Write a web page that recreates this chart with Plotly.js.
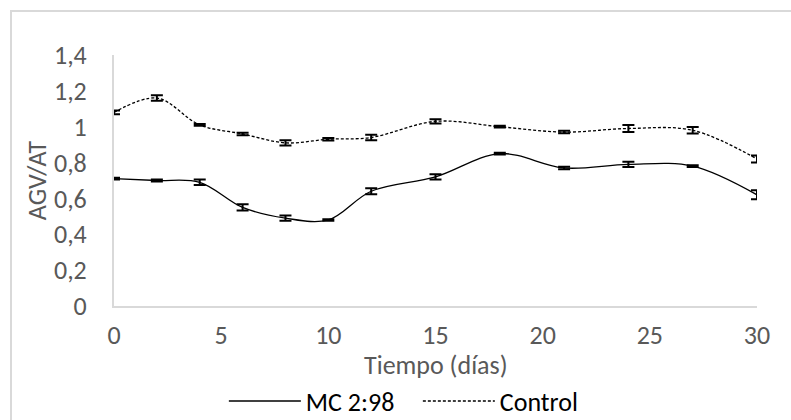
<!DOCTYPE html>
<html>
<head>
<meta charset="utf-8">
<script src="https://cdn.plot.ly/plotly-3.0.1.min.js"></script>
<style>
html,body{margin:0;padding:0;background:#fff;}
#wrap{position:relative;width:791px;height:420px;overflow:hidden;}
#frame{position:absolute;left:10px;top:10px;width:800px;height:430px;border:2px solid #d9d9d9;box-sizing:border-box;pointer-events:none;}
#chart{position:absolute;left:0;top:0;width:791px;height:420px;}
</style>
</head>
<body>
<div id="wrap"><div id="chart"></div><div id="frame"></div></div>
<script>
const dias = [0, 2, 4, 6, 8, 10, 12, 15, 18, 21, 24, 27, 30];
const mcValues = [0.71, 0.70, 0.69, 0.55, 0.49, 0.48, 0.64, 0.72, 0.85, 0.77, 0.79, 0.78, 0.62];
const mcErrors = [0.005, 0.005, 0.015, 0.017, 0.015, 0.004, 0.017, 0.015, 0.005, 0.007, 0.015, 0.005, 0.025];
const controlValues = [1.08, 1.16, 1.01, 0.96, 0.91, 0.93, 0.94, 1.03, 1.00, 0.97, 0.99, 0.98, 0.82];
const controlErrors = [0.01, 0.015, 0.005, 0.007, 0.015, 0.007, 0.015, 0.012, 0.005, 0.007, 0.02, 0.018, 0.02];
const seriesNames = ["MC 2:98", "Control"];
const xTitle = "Tiempo (días)";
const yTitle = "AGV/AT";

const FONT = "Carlito, Calibri, 'Liberation Sans Narrow', 'DejaVu Sans Condensed', sans-serif";
const GREY = "#595959";
const FS = 26;

const traces = [
  {
    x: dias, y: mcValues, name: seriesNames[0], type: "scatter", mode: "lines",
    line: {color: "#000", width: 1.3, shape: "spline", smoothing: 1},
    error_y: {type: "data", array: mcErrors, visible: true, color: "#000", thickness: 2, width: 6}
  },
  {
    x: dias, y: controlValues, name: seriesNames[1], type: "scatter", mode: "lines",
    line: {color: "#000", width: 1.3, shape: "spline", smoothing: 1, dash: "3px,2px"},
    error_y: {type: "data", array: controlErrors, visible: true, color: "#000", thickness: 2, width: 6}
  }
];

const layout = {
  width: 791, height: 420,
  paper_bgcolor: "rgba(0,0,0,0)", plot_bgcolor: "#fff",
  separators: ",.",
  margin: {l: 113.5, r: 34, t: 54.5, b: 113.5},
  font: {family: FONT, size: FS, color: GREY},
  showlegend: true,
  legend: {
    orientation: "h", xref: "container", yref: "container",
    x: 0.283, xanchor: "left", y: 0.045, yanchor: "middle",
    font: {family: FONT, size: FS, color: "#000"}, itemwidth: 72,
    entrywidth: 107, bgcolor: "rgba(0,0,0,0)"
  },
  xaxis: {
    range: [0, 30], tickmode: "linear", tick0: 0, dtick: 5,
    showgrid: false, zeroline: false, showline: true, linecolor: "#d9d9d9", linewidth: 2,
    ticks: "", ticklabelstandoff: 5,
    tickfont: {family: FONT, size: FS, color: GREY},
    automargin: false
  },
  yaxis: {
    range: [0, 1.4], tickmode: "linear", tick0: 0, dtick: 0.2,
    showgrid: false, zeroline: false, showline: true, linecolor: "#d9d9d9", linewidth: 2,
    ticks: "", ticklabelstandoff: 20,
    tickfont: {family: FONT, size: FS, color: GREY},
    title: {text: yTitle, font: {family: FONT, size: FS, color: GREY}, standoff: 0},
    automargin: false
  },
  annotations: [
    {text: xTitle, xref: "paper", yref: "paper", x: 0.5, y: -0.236, xanchor: "center", yanchor: "middle",
     showarrow: false, font: {family: FONT, size: FS, color: GREY}}
  ]
};

Plotly.newPlot("chart", traces, layout, {displayModeBar: false, staticPlot: true});
</script>
</body>
</html>
